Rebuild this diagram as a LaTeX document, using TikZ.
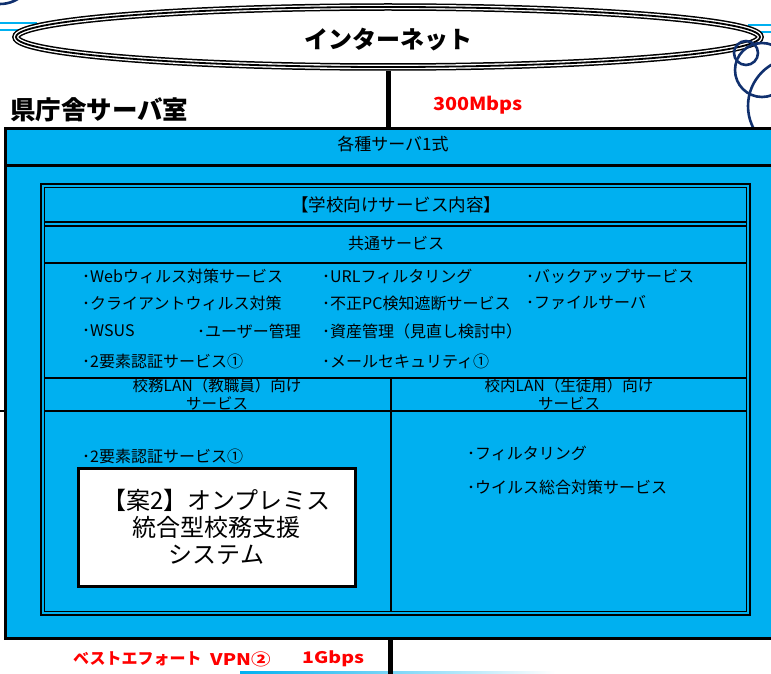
\documentclass[tikz,border=0pt]{standalone}
\usepackage{fontspec}
\setmainfont{Noto Sans CJK JP}
\usetikzlibrary{shapes.geometric}
\definecolor{sky}{HTML}{00B0F0}
\definecolor{navy}{HTML}{10306E}
\definecolor{redtxt}{HTML}{FF0000}
\begin{document}
\begin{tikzpicture}[x=1pt,y=-1pt,
  item/.style={anchor=west, inner sep=0, font=\fontsize{16}{18}\selectfont},
  head/.style={inner sep=0, font=\fontsize{17}{18}\selectfont},
  twoline/.style={inner sep=0, align=center, font=\fontsize{15.5}{18}\selectfont},
  cloud/.style={draw=navy, line width=2.6},
  deco/.style={draw=sky, line width=2.5},
  redlabel/.style={inner sep=0, text=redtxt, font=\fontsize{16}{18}\selectfont\bfseries}]
\useasboundingbox (0,0) rectangle (771,674);
\clip (0,0) rectangle (771,674);

% decorations (background)
\draw[deco] (0,23) -- (37,23);
\draw[deco] (0,30) -- (34,30);
\draw[deco] (748,25) -- (771,25);
\draw[deco] (758,32) -- (771,32);
\draw[cloud] (0,-30) circle[radius=34];
\shade[left color=sky, right color=white] (240,671) rectangle (555,673);

% internet ellipse
\node[ellipse, draw, line width=7.5, minimum width=744, minimum height=60, inner sep=0] (inet) at (388,37) {};
\draw[white, line width=4.5] (inet.center) ellipse [x radius=372, y radius=30];
\draw[line width=1.8] (inet.center) ellipse [x radius=372, y radius=30];
\node[inner sep=0, font=\fontsize{24}{26}\selectfont\bfseries] (inettext) at (388,40) {インターネット};

% clouds at right
\draw[cloud] (746,53) circle[radius=12];
\draw[cloud] (762,70) circle[radius=27];
\draw[cloud] (796,106) circle[radius=48];
\draw[cloud] (918,368) circle[radius=150];

% labels above the room
\node[anchor=west, inner sep=0, font=\fontsize{25.5}{27}\selectfont\bfseries] (roomlabel) at (10,110) {県庁舎サーバ室};
\node[redlabel, anchor=west, font=\fontsize{18}{20}\selectfont\bfseries, xscale=1.1] (bw1) at (433,105) {300Mbps};

% room
\node[draw, line width=3, fill=sky, anchor=north west, minimum width=800, minimum height=510,
      inner sep=0, outer sep=0] (room) at (5.5,128.5) {};
\draw[line width=5] (inet.south) -- (inet.south |- room.north);
\coordinate (bottomend) at (390,674);
\draw[line width=5] (bottomend |- room.south) -- (bottomend);
\draw[line width=2.5] (0,411) -- (6,411);
\draw[line width=3] (5.5,165) -- (800,165);
\node[head] (srv) at (393,144) {各種サーバ1式};

% school services frame
\draw[line width=2.5] (41,184) rectangle (750,615);
\draw[line width=1.5] (44.5,187.5) rectangle (746.5,611.5);
\draw[line width=1.8] (44.5,187.5) rectangle (746.5,222);
\draw[line width=1.8] (44.5,226) -- (746.5,226);
\draw[line width=1.2] (44.5,263) -- (746.5,263);
\draw[line width=2] (44.5,378) -- (746.5,378);
\draw[line width=1.2] (44.5,411) -- (746.5,411);
\draw[line width=2] (391,378) -- (391,611.5);

\node[head, font=\fontsize{17.5}{18}\selectfont] (title) at (396,205) {【学校向けサービス内容】};
\node[head, font=\fontsize{16}{18}\selectfont] (common) at (396,243) {共通サービス};

\node[item] (c1) at (82,276) {･Webウィルス対策サービス};
\node[item] (c2) at (322,276) {･URLフィルタリング};
\node[item] (c3) at (526,276) {･バックアップサービス};
\node[item] (c4) at (82,303) {･クライアントウィルス対策};
\node[item] (c5) at (322,303) {･不正PC検知遮断サービス};
\node[item] (c6) at (526,303) {･ファイルサーバ};
\node[item] (c7) at (82,331) {･WSUS};
\node[item] (c8) at (197,331) {･ユーザー管理};
\node[item] (c9) at (322,331) {･資産管理（見直し検討中）};
\node[item] (c10) at (82,361) {･2要素認証サービス①};
\node[item] (c11) at (322,361) {･メールセキュリティ①};

\node[twoline] (staff) at (217,394) {校務LAN（教職員）向け\\サービス};
\node[twoline] (pupil) at (569,394) {校内LAN（生徒用）向け\\サービス};

\node[item] (s1) at (82,456) {･2要素認証サービス①};
\node[item] (p1) at (467,453) {･フィルタリング};
\node[item] (p2) at (467,487) {･ウイルス総合対策サービス};

\node[draw, line width=3, fill=white, minimum width=277, minimum height=118, inner sep=0,
      align=center, font=\fontsize{24}{27}\selectfont] (sys) at (216.5,527)
      {【案2】オンプレミス\\統合型校務支援\\システム};

\node[redlabel, anchor=west] (vpn1) at (73,659) {ベストエフォート};
\node[redlabel, anchor=west, xscale=1.22] (vpn2) at (210,659) {VPN②};
\node[redlabel, anchor=west, xscale=1.22] (vpn3) at (302,659) {1Gbps};
\end{tikzpicture}
\end{document}
